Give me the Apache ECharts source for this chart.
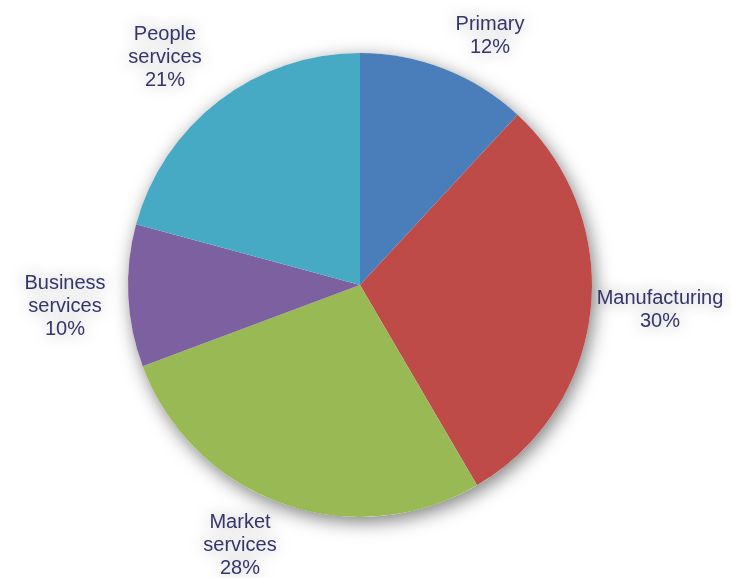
<!DOCTYPE html>
<html>
<head>
<meta charset="utf-8">
<script src="https://cdn.jsdelivr.net/npm/echarts@6/dist/echarts.min.js"></script>
<style>
  html, body { margin: 0; padding: 0; background: #ffffff; }
  #chart { width: 731px; height: 578px; }
</style>
</head>
<body>
<div id="chart"></div>
<script>
// Employment share by sector (percent)
const sectors = ['Primary', 'Manufacturing', 'Market services', 'Business services', 'People services'];
const shares = [12, 30, 28, 10, 21];
const sectorColors = ['#4a7ebb', '#be4b48', '#98b954', '#7d60a0', '#46aac5'];

// Label box centres (px) around the pie, in sector order
const labelSpots = [[490, 36], [660, 310], [240, 545], [65, 306], [165, 57]];

const center = [360, 285];
const radius = 232;

const chart = echarts.init(document.getElementById('chart'), null, { renderer: 'canvas' });

chart.setOption({
  backgroundColor: '#ffffff',
  animation: false,
  series: [
    {
      // backdrop disc carrying the drop shadow under the whole pie
      type: 'pie',
      silent: true,
      z: 1,
      center: center,
      radius: radius,
      label: { show: false },
      labelLine: { show: false },
      itemStyle: {
        color: '#ffffff',
        shadowColor: 'rgba(0,0,0,0.5)',
        shadowBlur: 18,
        shadowOffsetX: 3,
        shadowOffsetY: 5
      },
      data: [{ value: 1, name: '' }]
    },
    {
      type: 'pie',
      z: 2,
      center: center,
      radius: radius,
      startAngle: 90,
      clockwise: true,
      itemStyle: { borderWidth: 0 },
      label: {
        show: true,
        position: 'outside',
        alignTo: 'none',
        overflow: 'none',
        bleedMargin: 0,
        formatter: p => p.name.replace(' ', '\n') + '\n' + p.value + '%',
        fontFamily: '"Liberation Sans", Arial, sans-serif',
        fontSize: 20,
        lineHeight: 23,
        color: '#35356b',
        align: 'center',
        textShadowColor: 'rgba(0,0,0,0.35)',
        textShadowBlur: 16
      },
      labelLine: { show: false },
      labelLayout: params => ({
        x: labelSpots[params.dataIndex][0],
        y: labelSpots[params.dataIndex][1],
        align: 'center',
        verticalAlign: 'middle'
      }),
      data: sectors.map((name, i) => ({
        name: name,
        value: shares[i],
        itemStyle: { color: sectorColors[i] }
      }))
    }
  ]
});
</script>
</body>
</html>
